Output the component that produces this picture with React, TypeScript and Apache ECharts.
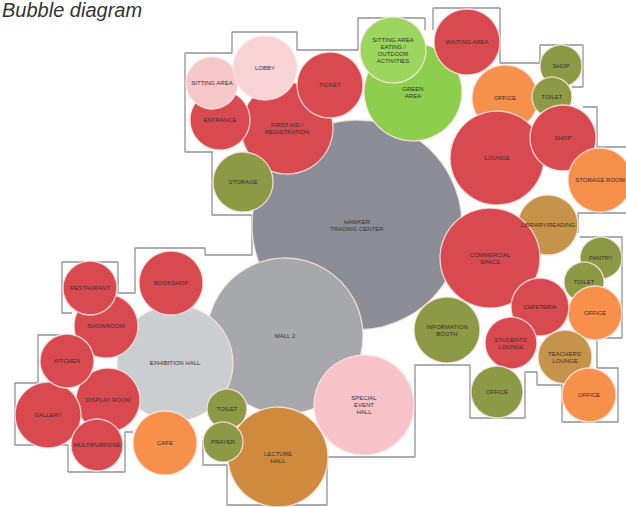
import React, { useEffect, useRef } from "react";
import * as echarts from "echarts";

const names = [
  "HAWKER\nTRADING CENTER", "MALL 2", "EXHIBITION HALL", "LECTURE\nHALL", "SPECIAL\nEVENT\nHALL",
  "GREEN\nAREA", "SITTING AREA\nEATING /\nOUTDOOR\nACTIVITIES", "WAITING AREA", "OFFICE", "SHOP", "TOILET",
  "LOUNGE", "SHOP", "STORAGE ROOM", "LIBRARY/READING", "COMMERCIAL\nSPACE", "PANTRY", "TOILET", "OFFICE",
  "CAFETERIA", "INFORMATION\nBOOTH", "STUDENTS'\nLOUNGE", "TEACHERS'\nLOUNGE", "OFFICE", "OFFICE",
  "FIRST AID /\nREGISTRATION", "TICKET", "ENTRANCE", "SITTING AREA", "LOBBY", "STORAGE",
  "SHOWROOM", "RESTAURANT", "BOOKSHOP", "DISPLAY ROOM", "GALLERY", "KITCHEN", "MULTIPURPOSE", "CAFE", "TOILET", "PRAYER",
];
const xs = [357, 285, 175, 278, 364, 413, 393, 467, 505, 561, 552, 497, 563, 600, 548, 490, 601, 584, 595, 540, 447, 511, 565, 497, 589, 287, 330, 220, 212, 265, 243, 106, 90, 171, 108, 48, 67, 97, 165, 227, 223];
const ys = [225, 336, 363, 457, 405, 92, 50, 42, 98, 66, 97, 158, 138, 180, 225, 258, 258, 282, 313, 307, 330, 343, 357, 392, 395, 128, 85, 120, 83, 68, 182, 326, 288, 283, 400, 415, 361, 445, 443, 409, 442];
const radii = [105, 78, 58, 50, 50, 49, 33, 33, 33, 21, 20, 47, 33, 32, 30, 50, 21, 20, 27, 29, 33, 26, 27, 26, 27, 46, 33, 30, 26, 32, 30, 32, 27, 32, 32, 33, 27, 26, 32, 20, 20];
const kinds = [
  "trade", "mall", "exhibit", "lecture", "event",
  "green", "greenLight", "red", "orange", "olive", "olive",
  "red", "red", "orange", "gold", "red", "olive", "olive", "orange",
  "red", "olive", "red", "gold", "olive", "orange",
  "red", "red", "red", "pink", "pinkLight", "olive",
  "red", "red", "red", "red", "red", "red", "red", "orange", "olive", "olive",
];

const outlines: number[][][] = [
  [[213, 152], [185, 152], [185, 53], [232, 53], [232, 32], [297, 32], [297, 50], [358, 50], [358, 18], [425, 18], [425, 30]],
  [[433, 30], [433, 8], [500, 8], [500, 63], [540, 63], [540, 45], [583, 45], [583, 87], [572, 87]],
  [[583, 107], [597, 107], [597, 147], [626, 147]],
  [[626, 213], [578, 213], [578, 233]],
  [[580, 237], [622, 237], [622, 338], [597, 338], [597, 368], [618, 368], [618, 422], [562, 422], [562, 385], [537, 385], [537, 372], [525, 372], [525, 418], [470, 418], [470, 365], [415, 365], [415, 457], [327, 457], [327, 505], [227, 505], [227, 465], [203, 465], [203, 440]],
  [[212, 152], [212, 215], [252, 215], [252, 255], [205, 255], [205, 248], [135, 248], [135, 293], [118, 293], [118, 262], [62, 262], [62, 313], [72, 313]],
  [[65, 335], [38, 335], [38, 383], [15, 383], [15, 445], [68, 445], [68, 472], [125, 472], [125, 432], [133, 432]],
];

const palette: Record<string, string> = {
  trade: "#8b8e97",
  mall: "#a7a8ac",
  exhibit: "#cbced1",
  lecture: "#cf8a3d",
  event: "#f7c3c8",
  green: "#8dcf4c",
  greenLight: "#9bd65e",
  red: "#d84a4f",
  orange: "#f6904a",
  olive: "#8d9a45",
  gold: "#c6934a",
  pink: "#f6c7ca",
  pinkLight: "#f9d4d6",
};

export default function App() {
  const ref = useRef<HTMLDivElement>(null);
  useEffect(() => {
    document.body.style.margin = "0";
    if (!ref.current) return;
    const chart = echarts.init(ref.current, undefined, { renderer: "svg" });
    const bubbleData = names.map((n, i) => ({
      name: n,
      value: [xs[i], ys[i], radii[i]],
      itemStyle: { color: palette[kinds[i]] },
    }));
    const lineSeries = outlines.map((pts) => ({
      type: "line",
      data: pts,
      symbol: "none",
      silent: true,
      z: 1,
      lineStyle: { color: "#8e949b", width: 1.3 },
    }));
    chart.setOption({
      animation: false,
      backgroundColor: "#ffffff",
      grid: { left: 0, right: 0, top: 0, bottom: 0 },
      xAxis: { type: "value", min: 0, max: 626, show: false },
      yAxis: { type: "value", min: 0, max: 507, inverse: true, show: false },
      graphic: [
        {
          type: "text",
          left: 2,
          top: 0,
          style: {
            text: "Bubble diagram",
            font: "italic 20px 'Liberation Sans', Arial, sans-serif",
            fill: "#333333",
          },
        },
      ],
      series: [
        ...lineSeries,
        {
          type: "scatter",
          z: 2,
          data: bubbleData,
          symbolSize: (v: number[]) => v[2] * 2,
          itemStyle: {
            opacity: 1,
            borderColor: "rgba(255,228,225,0.85)",
            borderWidth: 1.3,
          },
          label: {
            show: true,
            position: "inside",
            formatter: (p: any) => p.name,
            fontSize: 6,
            lineHeight: 7,
            color: "#3a2e2e",
            fontFamily: "'Liberation Sans', Arial, sans-serif",
          },
          emphasis: { disabled: true },
        },
      ],
    });
    return () => chart.dispose();
  }, []);
  return <div ref={ref} style={{ width: 626, height: 507 }} />;
}
